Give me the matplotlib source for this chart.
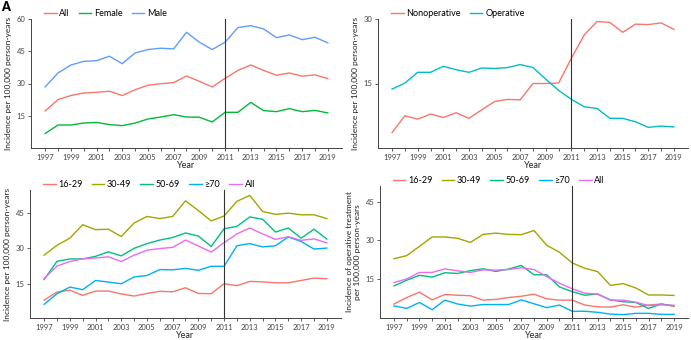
import matplotlib
matplotlib.use("Agg")
import matplotlib.pyplot as plt

plt.rcParams['font.family'] = ['Lato', 'DejaVu Sans']

years = list(range(1997, 2020))

# panel A: by sex
all_inc = [17.2, 22.5, 24.4, 25.6, 25.9, 26.4, 24.4, 27.1, 29.2, 29.9, 30.4, 33.5,
           31.0, 28.4, 32.4, 36.1, 38.6, 36.1, 33.8, 34.9, 33.4, 34.0, 32.3]
female = [6.7, 10.7, 10.7, 11.6, 11.9, 10.9, 10.4, 11.6, 13.5, 14.4, 15.5, 14.4,
          14.3, 12.1, 16.6, 16.6, 21.2, 17.4, 16.9, 18.3, 16.9, 17.5, 16.3]
male = [28.4, 34.9, 38.6, 40.3, 40.6, 42.7, 39.2, 44.2, 45.8, 46.4, 46.1, 53.8,
        49.2, 45.8, 49.2, 56.0, 56.9, 55.4, 51.3, 52.6, 50.4, 51.5, 48.9]

# panel B: by treatment
nonop = [3.6, 7.5, 6.7, 7.9, 7.1, 8.2, 6.9, 8.9, 10.8, 11.3, 11.2, 15.0,
         15.0, 15.1, 20.9, 26.3, 29.4, 29.2, 26.9, 28.8, 28.7, 29.1, 27.6]
oper = [13.7, 15.1, 17.6, 17.6, 19.0, 18.2, 17.6, 18.6, 18.5, 18.7, 19.4, 18.7,
        16.0, 13.4, 11.3, 9.6, 9.2, 6.9, 6.9, 6.1, 4.8, 5.1, 4.9]

# panel C: by age group
c_16_29 = [8.1, 11.5, 12.3, 10.1, 11.9, 11.9, 10.7, 9.8, 10.9, 11.8, 11.6, 13.3,
           10.9, 10.8, 15.0, 14.2, 16.0, 15.8, 15.4, 15.4, 16.4, 17.4, 17.1]
c_30_49 = [27.1, 31.3, 34.3, 40.0, 37.9, 38.1, 35.0, 40.7, 43.5, 42.6, 43.5, 50.1,
           46.0, 41.6, 43.7, 49.9, 52.4, 45.6, 44.4, 44.9, 44.2, 44.2, 42.6]
c_50_69 = [16.8, 24.5, 25.5, 25.5, 26.6, 28.5, 26.8, 30.0, 32.0, 33.5, 34.6, 36.5,
           35.2, 30.8, 38.3, 39.3, 43.3, 42.3, 36.9, 38.6, 34.3, 38.1, 33.9]
c_70 = [6.3, 10.8, 13.6, 12.5, 16.4, 15.7, 15.0, 17.9, 18.5, 21.0, 20.9, 21.5,
        20.7, 22.4, 22.4, 31.1, 32.0, 30.6, 31.1, 34.8, 32.9, 29.7, 30.1]

# panel D: operative treatment by age group
d_16_29 = [5.4, 7.9, 10.0, 7.0, 9.1, 8.8, 8.6, 6.9, 7.2, 7.9, 8.4, 9.2,
           7.4, 6.9, 6.9, 5.0, 4.3, 4.2, 5.1, 4.2, 5.0, 5.4, 4.5]
d_30_49 = [22.9, 24.1, 27.7, 31.3, 31.3, 30.8, 29.2, 32.3, 32.8, 32.3, 32.2, 33.8,
           28.1, 25.4, 21.3, 19.2, 17.9, 12.6, 13.3, 11.6, 8.9, 8.9, 8.7]
d_50_69 = [12.4, 14.6, 16.5, 15.8, 17.5, 17.2, 18.3, 19.0, 18.0, 18.9, 20.3, 16.7,
           16.7, 12.0, 10.2, 8.8, 9.3, 7.0, 6.3, 6.0, 3.7, 5.4, 4.7]
d_70 = [4.7, 3.7, 6.0, 3.2, 6.9, 5.4, 4.6, 5.2, 5.2, 5.2, 7.0, 5.5,
        4.0, 5.0, 2.6, 2.6, 2.2, 1.5, 1.3, 1.8, 1.8, 1.4, 1.4]

age_labels = ['16-29', '30-49', '50-69', '\u226570', 'All']
age_colors = ['#F8766D', '#A3A500', '#00BF7D', '#00B0F6', '#E76BF3']

W, H = 691, 340
fig = plt.figure(figsize=(W / 100, H / 100), dpi=100)


def make_ax(left, right, top, bottom):
    return fig.add_axes([left / W, 1 - bottom / H, (right - left) / W, (bottom - top) / H])


def style(ax, ylim, yticks, ylabel):
    ax.set_xlim(1995.9, 2020.1)
    ax.set_ylim(*ylim)
    ax.set_xticks(years)
    ax.set_xticklabels([str(y) if y % 2 else '' for y in years])
    ax.set_yticks(yticks)
    ax.axvline(2011, color='#333333', lw=0.8)
    for s in ['top', 'right']:
        ax.spines[s].set_visible(False)
    for s in ['left', 'bottom']:
        ax.spines[s].set_color('#444444')
        ax.spines[s].set_linewidth(0.7)
    ax.tick_params(colors='#444444', length=2, width=0.6, labelsize=5.5, pad=2)
    ax.set_xlabel('Year', fontsize=6.5, labelpad=0, color='#222222')
    ax.set_ylabel(ylabel, fontsize=6, labelpad=3, color='#222222')
    ax.legend(loc='lower left', bbox_to_anchor=(0.03, 0.98), ncol=5, frameon=False,
              fontsize=6.5, handlelength=1.4, handletextpad=0.3,
              columnspacing=1.0, borderaxespad=0)


ylab = 'Incidence per 100,000 person-years'

axA = make_ax(31, 342, 19, 148)
axA.plot(years, all_inc, color='#F8766D', lw=1, label='All')
axA.plot(years, female, color='#00BA38', lw=1, label='Female')
axA.plot(years, male, color='#619CFF', lw=1, label='Male')
style(axA, (0, 60), [15, 30, 45, 60], ylab)

axB = make_ax(378, 688, 19, 148)
axB.plot(years, nonop, color='#F8766D', lw=1, label='Nonoperative')
axB.plot(years, oper, color='#00BFC4', lw=1, label='Operative')
style(axB, (0, 30), [15, 30], ylab)

axC = make_ax(30, 341, 190, 318)
for vals, lab, col in zip([c_16_29, c_30_49, c_50_69, c_70, all_inc], age_labels, age_colors):
    axC.plot(years, vals, color=col, lw=1, label=lab)
style(axC, (0.5, 54.7), [15, 30, 45], ylab)

axD = make_ax(380, 688, 186, 318)
for vals, lab, col in zip([d_16_29, d_30_49, d_50_69, d_70, oper], age_labels, age_colors):
    axD.plot(years, vals, color=col, lw=1, label=lab)
style(axD, (0, 51), [15, 30, 45],
      'Incidence of operative treatment\nper 100,000 person-years')

fig.text(0.002, 0.998, 'A', fontsize=9, fontweight='heavy', va='top', ha='left')

fig.savefig('out.png', dpi=100)
